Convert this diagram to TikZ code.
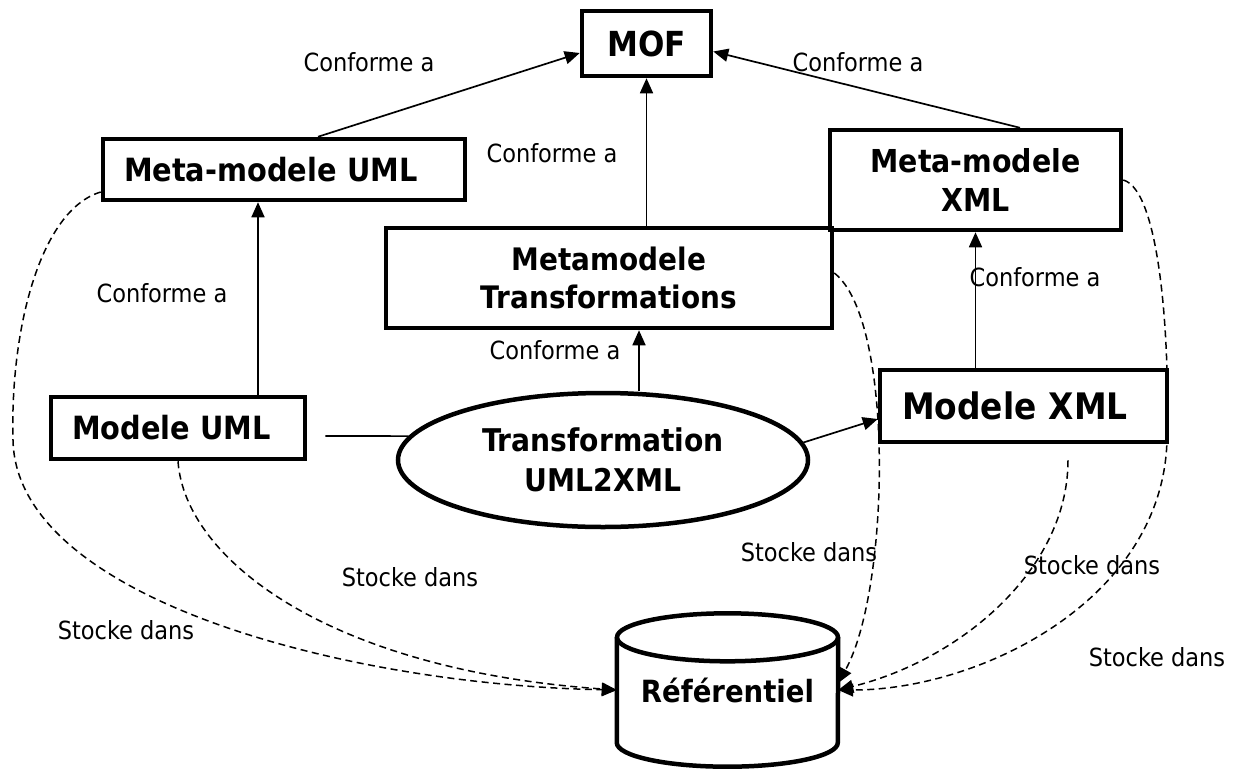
\documentclass[tikz,border=0pt]{standalone}
\usepackage{fontspec}
\setmainfont{DejaVu Sans Condensed}
\usetikzlibrary{arrows.meta,shapes.geometric,calc}
\begin{document}
\begin{tikzpicture}[x=1pt,y=-1pt,
  box/.style={draw,line width=4.5pt,rectangle,inner sep=0pt,align=center},
  bigtxt/.style={font=\bfseries\fontsize{32}{39}\selectfont},
  lbl/.style={font=\fontsize{25}{30}\selectfont,inner sep=0pt},
  arr/.style={line width=1.7pt,-{Triangle[length=15pt,width=13pt]}},
  plain/.style={line width=1.7pt},
  dsh/.style={line width=1.5pt,dash pattern=on 7pt off 4.5pt,-{Triangle[length=15pt,width=13pt]}}
]
\useasboundingbox (0,0) rectangle (1247,774);

% nodes
\node[box,minimum width=129pt,minimum height=65pt,font=\bfseries\fontsize{34.5}{40}\selectfont] (mof) at (646.5,43.5) {MOF};
\node[box,bigtxt,minimum height=61pt,inner xsep=21pt,text width=320pt,align=left] (metauml) at (284,169.5) {Meta-modele UML};
\node[box,minimum width=291pt,minimum height=100pt,font=\bfseries\fontsize{31.6}{39}\selectfont] (metaxml) at (975.5,180) {Meta-modele\\XML};
\node[box,minimum width=446pt,minimum height=100pt,font=\bfseries\fontsize{31}{38}\selectfont] (trans) at (609,278) {Metamodele\\Transformations};
\node[box,bigtxt,minimum height=62pt,inner xsep=21pt,text width=212pt,align=left] (modeleuml) at (178,428) {Modele UML};
\node[box,minimum height=72pt,inner xsep=22pt,text width=243pt,align=left,font=\bfseries\fontsize{36.5}{42}\selectfont] (modelexml) at (1023.5,406) {Modele XML};
\node[ellipse,draw,line width=4.5pt,minimum width=410pt,minimum height=134pt,inner sep=0pt,align=center,font=\bfseries\fontsize{31.3}{40}\selectfont] (tf) at (603,460) {Transformation\\UML2XML};
\node[minimum width=221pt,minimum height=153pt,inner sep=0pt,font=\bfseries\fontsize{30.6}{36}\selectfont] (ref) at (727.5,690) {Référentiel};

% cylinder outline
\draw[line width=4.5pt] ([yshift=-24pt]ref.north) ellipse [x radius=110.5pt, y radius=24pt];
\draw[line width=4.5pt] ([yshift=-24pt]ref.north west) -- ([yshift=24pt]ref.south west)
  arc[start angle=180, end angle=360, x radius=110.5pt, y radius=24pt] -- ([yshift=-24pt]ref.north east);

% labels
\node[lbl] (c1) at (369,62) {Conforme a};
\node[lbl] (c2) at (552,153) {Conforme a};
\node[lbl] (c3) at (858,62) {Conforme a};
\node[lbl] (c4) at (162,293) {Conforme a};
\node[lbl] (c5) at (1035,277) {Conforme a};
\node[lbl] (c6) at (555,350) {Conforme a};
\node[lbl] (s1) at (126,630) {Stocke dans};
\node[lbl] (s2) at (410,577) {Stocke dans};
\node[lbl] (s3) at (809,552) {Stocke dans};
\node[lbl] (s4) at (1092,565) {Stocke dans};
\node[lbl] (s5) at (1157,657) {Stocke dans};

% conforme arrows
\draw[arr] ([xshift=34pt]metauml.north) -- ([yshift=-9.5pt]mof.west);
\draw[arr] ([xshift=44.5pt]metaxml.north) -- ([yshift=-8pt]mof.east);
\draw[arr] (trans.north -| mof.south) -- (mof.south);
\draw[arr] ([xshift=80pt]modeleuml.north) -- ([xshift=80pt]modeleuml.north |- metauml.south);
\draw[arr] (metaxml.south |- modelexml.north) -- (metaxml.south);
\draw[arr] ([xshift=36pt]tf.north) -- ([xshift=36pt]tf.north |- trans.south);
\coordinate (ul) at ([xshift=18pt,yshift=-8pt]modeleuml.east);
\draw[plain] (ul) -- (tf.173);
\draw[arr] (tf.5) -- ([yshift=-13pt]modelexml.west);

% stocke dans (dashed)
\draw[dsh] ([yshift=-22.5pt]metauml.west) .. controls (40,210) and (10,330) .. (13,440)
  .. controls (16,600) and (350,685) .. (ref.west);
\draw[dsh] (modeleuml.south) .. controls (185,560) and (330,670) .. (ref.west);
\draw[dsh] ([yshift=5pt]trans.east) .. controls (895,320) and (890,590) .. ([yshift=7pt]ref.east);
\coordinate (xb) at ([xshift=44.5pt,yshift=-16pt]modelexml.south);
\draw[dsh] (xb) .. controls (1068,570) and (960,660) .. (ref.east);
\draw[dsh] (metaxml.east) .. controls (1160,190) and (1170,340) .. (1167,440)
  .. controls (1163,600) and (980,690) .. (ref.east);
\end{tikzpicture}
\end{document}
